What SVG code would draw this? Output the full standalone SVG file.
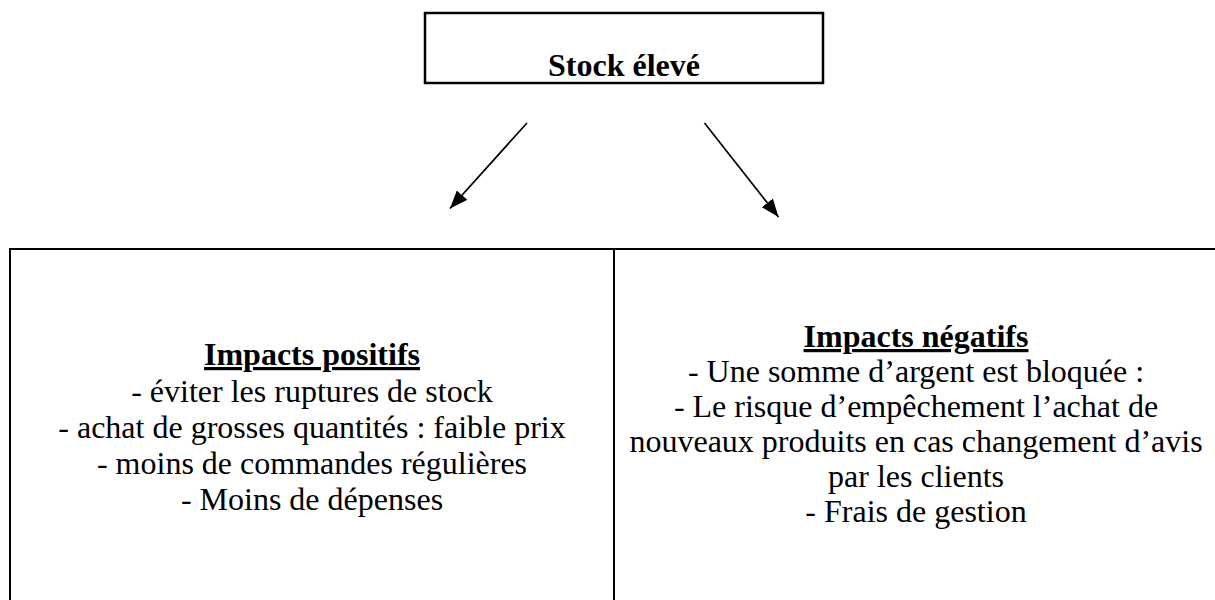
<svg xmlns="http://www.w3.org/2000/svg" width="1215" height="600" viewBox="0 0 1215 600">
<defs>
<style>
.box{fill:#fff;stroke:#000;stroke-width:2}
.conn{stroke:#000;stroke-width:1.7;fill:none}
.t{font-family:"Liberation Serif","Times New Roman",serif;font-size:32px;fill:#000;text-anchor:middle}
.b{font-weight:bold}
.u{text-decoration:underline}
</style>
<marker id="ah" viewBox="0 0 18 14" refX="18" refY="7" markerWidth="18" markerHeight="14" markerUnits="userSpaceOnUse" orient="auto">
<path d="M0,0 L18,7 L0,14 z" fill="#000"/>
</marker>
</defs>
<rect width="1215" height="600" fill="#fff"/>
<g id="stock">
<rect class="box" x="425" y="13" width="398" height="70" style="stroke-width:2.5"/>
<text class="t b" x="624" y="76">Stock élevé</text>
</g>
<g id="connectors">
<line class="conn" x1="527" y1="123" x2="450" y2="208.5" marker-end="url(#ah)"/>
<line class="conn" x1="704.5" y1="123" x2="778.5" y2="217" marker-end="url(#ah)"/>
</g>
<g id="positifs">
<rect class="box" x="10" y="249" width="604" height="360"/>
<text class="t b u" x="312" y="365">Impacts positifs</text>
<text class="t" x="312" y="402">- éviter les ruptures de stock</text>
<text class="t" x="312" y="438">- achat de grosses quantités : faible prix</text>
<text class="t" x="312" y="474">- moins de commandes régulières</text>
<text class="t" x="312" y="510">- Moins de dépenses</text>
</g>
<g id="negatifs">
<rect class="box" x="614" y="249" width="610" height="360"/>
<text class="t b u" x="916" y="347">Impacts négatifs</text>
<text class="t" x="916" y="382">- Une somme d’argent est bloquée :</text>
<text class="t" x="916" y="417">- Le risque d’empêchement l’achat de</text>
<text class="t" x="916" y="452">nouveaux produits en cas changement d’avis</text>
<text class="t" x="916" y="487">par les clients</text>
<text class="t" x="916" y="522">- Frais de gestion</text>
</g>
</svg>
